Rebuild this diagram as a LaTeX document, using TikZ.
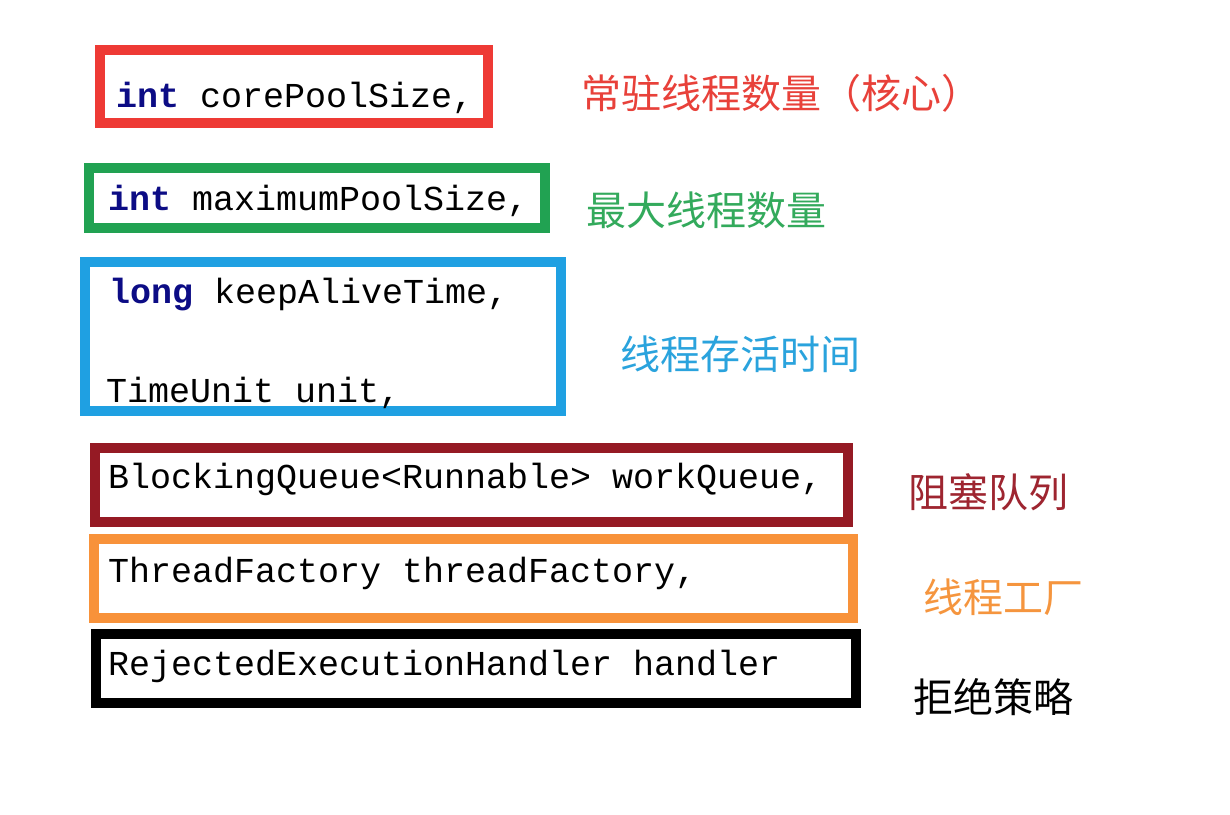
\documentclass[tikz,border=0pt]{standalone}
\usepackage{fontspec}
\setmonofont{Liberation Mono}
\newfontfamily\cjk{Noto Sans CJK SC}
\definecolor{cred}{HTML}{EE3A35}
\definecolor{lred}{HTML}{E8413A}
\definecolor{cgreen}{HTML}{21A252}
\definecolor{lgreen}{HTML}{33AA5C}
\definecolor{cblue}{HTML}{1FA0E2}
\definecolor{lblue}{HTML}{2AA3DD}
\definecolor{cdred}{HTML}{951A24}
\definecolor{ldred}{HTML}{9E2530}
\definecolor{corange}{HTML}{F8923A}
\definecolor{lorange}{HTML}{F5953E}
\definecolor{navy}{HTML}{0C0C85}
\tikzset{
  pbox/.style={draw, line width=10pt, rectangle, inner sep=0pt, fill=none},
  code/.style={font=\ttfamily\fontsize{35}{40}\selectfont, anchor=base west, inner sep=0pt, text=black},
  lab/.style={font=\cjk\fontsize{40}{45}\selectfont, anchor=west, inner sep=0pt},
}
\newcommand{\kw}[1]{\textcolor{navy}{\bfseries #1}}
\begin{document}
\begin{tikzpicture}[x=1pt,y=-1pt]
\path[use as bounding box, fill=white] (0,0) rectangle (1230,814);
% boxes
\node[pbox, draw=cred, minimum width=388pt, minimum height=73pt] (b1) at (294,86.5) {};
\node[pbox, draw=cgreen, minimum width=456pt, minimum height=60pt] (b2) at (317,198) {};
\node[pbox, draw=cblue, minimum width=476pt, minimum height=149pt] (b3) at (323,336.5) {};
\node[pbox, draw=cdred, minimum width=753pt, minimum height=74pt] (b4) at (471.5,485) {};
\node[pbox, draw=corange, minimum width=759.5pt, minimum height=79.5pt] (b5) at (473.25,578.25) {};
\node[pbox, draw=black, minimum width=760pt, minimum height=69.5pt] (b6) at (476,668.25) {};
% code texts
\node[code] (t1) at (116,107) {\kw{int} corePoolSize,};
\node[code] (t2) at (108,210) {\kw{int} maximumPoolSize,};
\node[code] (t3a) at (109,303) {\kw{long} keepAliveTime,};
\node[code] (t3b) at (106,402) {TimeUnit unit,};
\node[code] (t4) at (108,488) {BlockingQueue<Runnable> workQueue,};
\node[code] (t5) at (108,582) {ThreadFactory threadFactory,};
\node[code] (t6) at (108,675) {RejectedExecutionHandler handler};
% labels
\node[lab, text=lred] (l1) at (581,93) {常驻线程数量（核心）};
\node[lab, text=lgreen] (l2) at (586,210) {最大线程数量};
\node[lab, text=lblue] (l3) at (620,354) {线程存活时间};
\node[lab, text=ldred] (l4) at (908,492) {阻塞队列};
\node[lab, text=lorange] (l5) at (923,597) {线程工厂};
\node[lab, text=black] (l6) at (913,697) {拒绝策略};
\end{tikzpicture}
\end{document}
